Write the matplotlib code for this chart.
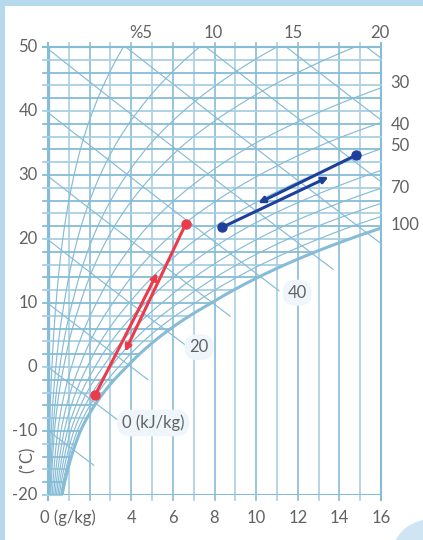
import numpy as np
import matplotlib.pyplot as plt
from matplotlib.patches import Rectangle, Ellipse

# chart values
rh_levels = [5, 10, 15, 20, 30, 40, 50, 60, 70, 80, 90, 100]
enthalpy_levels = [-10, 0, 10, 20, 30, 40, 50, 60, 70, 80, 90]
enthalpy_end_w = [2.2, 3.4, 4.8, 6.6, 8.75, 11.1, 13.7, 16, 16, 16, 16]
# correction of the saturation pressure as drawn on this chart
sat_corr_t = [-20, -10, 0, 10, 22, 35, 50]
sat_corr = [0.87, 0.88, 1.0, 1.03, 0.98, 0.95, 0.95]
temp_ticks = [-20, -10, 0, 10, 20, 30, 40, 50]
hum_ticks = [4, 6, 8, 10, 12, 14, 16]
top_labels = ['%5', '10', '15', '20']
top_label_w = [4.47, 7.93, 11.78, 15.96]
right_labels = ['30', '40', '50', '70', '100']
right_label_t = [44.4, 37.8, 34.5, 28.0, 22.2]
enth_labels = ['0 (kJ/kg)', '20', '40']
enth_label_w = [5.05, 7.26, 11.97]
enth_label_t = [-8.75, 3.1, 11.6]

red_pts = [(2.26, -4.4), (6.61, 22.3)]
red_tips = [(5.25, 14.7), (3.70, 2.4)]
blue_pts = [(8.35, 21.8), (14.8, 33.1)]
blue_tips = [(13.48, 29.7), (10.1, 25.6)]

GRID = '#86bcd6'
GRID_LIGHT = '#a8d0e4'
TXT = '#626262'
RED = '#ec3a4b'
BLUE = '#1e409a'
P = 101.325
FS = 12


def w_sat(t, phi=1.0):
    ps = np.interp(t, sat_corr_t, sat_corr) * 0.6112 * np.exp(17.62 * t / (243.12 + t))
    pv = phi * ps
    return 622 * pv / (P - pv)


def t_of_h(h, w):
    return (h - 2.501 * w) / (1.006 + 0.00186 * w)


plt.rcParams['font.family'] = ['Lato', 'DejaVu Sans']
fig = plt.figure(figsize=(4.23, 5.40), dpi=100)
fig.patch.set_facecolor('#b7d9ee')
fig.patches.append(Rectangle((5 / 423, 0), 1, 1 - 6 / 540, transform=fig.transFigure,
                             facecolor='white', edgecolor='none', zorder=0))
fig.patches.append(Ellipse((1.03, -0.02), 0.2, 0.12, transform=fig.transFigure,
                           facecolor='#cfe5f3', edgecolor='none', zorder=0.5))

ax = fig.add_axes([48 / 423, 45 / 540, 333 / 423, 448 / 540])
ax.set_zorder(5)
ax.set_xlim(0, 16)
ax.set_ylim(-20, 50)
ax.axis('off')

# vertical grid (humidity)
for i in range(0, 17):
    c = GRID if i % 2 == 0 else GRID_LIGHT
    ax.plot([i, i], [-20.8, 50.6], color=c, lw=1.5 if i in (0, 16) else 1.2,
            clip_on=False, zorder=1)
ax.plot([0, 0], [-20, 50], color=GRID, lw=2.4, zorder=1)

# horizontal grid (dry bulb), ends on the saturation curve
for t in range(-20, 51, 2):
    end = min(16, w_sat(t))
    c = GRID if t % 4 == 2 else GRID_LIGHT
    lw = 1.5 if t in (-20, 50) else 1.3
    ax.plot([-0.25, end], [t, t], color=c, lw=lw, clip_on=False, zorder=1)
ax.plot([0, 16], [-20, -20], color=GRID, lw=1.5, zorder=1)
ax.plot([0, 16], [50, 50], color=GRID, lw=1.5, zorder=1)

# relative humidity curves
tt = np.linspace(-20, 50, 400)
for rh in rh_levels:
    ax.plot(w_sat(tt, rh / 100), tt, color=GRID, lw=2.2 if rh == 100 else 0.85, zorder=2)

# enthalpy lines
for h, we in zip(enthalpy_levels, enthalpy_end_w):
    w0 = 0.0 if h <= 50.3 else (h - 50.3) / 2.594
    ww = np.linspace(w0, we, 50)
    ax.plot(ww, t_of_h(h, ww), color=GRID, lw=0.85, zorder=2)

# labels
for t in temp_ticks:
    ax.text(-0.5, t, str(t), ha='right', va='center', fontsize=FS, color=TXT)
ax.text(-0.4, -23.6, '0 (g/kg)', ha='left', va='center', fontsize=FS, color=TXT)
for w in hum_ticks:
    ax.text(w, -23.6, str(w), ha='center', va='center', fontsize=FS, color=TXT)
ax.text(-0.96, -14.5, '(˚C)', rotation=90, ha='center', va='center', fontsize=FS, color=TXT)
for lab, w in zip(top_labels, top_label_w):
    ax.text(w, 52.2, lab, ha='center', va='center', fontsize=FS, color=TXT)
for lab, t in zip(right_labels, right_label_t):
    ax.text(16.45, t, lab, ha='left', va='center', fontsize=FS, color=TXT)
for lab, w, t in zip(enth_labels, enth_label_w, enth_label_t):
    ax.text(w, t, lab, ha='center', va='center', fontsize=FS, color=TXT, zorder=5,
            bbox=dict(boxstyle='round,pad=0.3,rounding_size=0.8', fc='#eef6fb', ec='none'))

# processes
for pts, tips, col in [(red_pts, red_tips, RED), (blue_pts, blue_tips, BLUE)]:
    for start, tip in zip(pts, tips):
        ax.annotate('', xy=tip, xytext=start, zorder=6,
                    arrowprops=dict(arrowstyle='-|>', color=col, lw=2.2,
                                    mutation_scale=9, shrinkA=0, shrinkB=0))
    ax.plot([p[0] for p in pts], [p[1] for p in pts], 'o', ls='none', color=col,
            ms=6.5, zorder=7)

fig.savefig('out.png', dpi=100, facecolor=fig.get_facecolor())
